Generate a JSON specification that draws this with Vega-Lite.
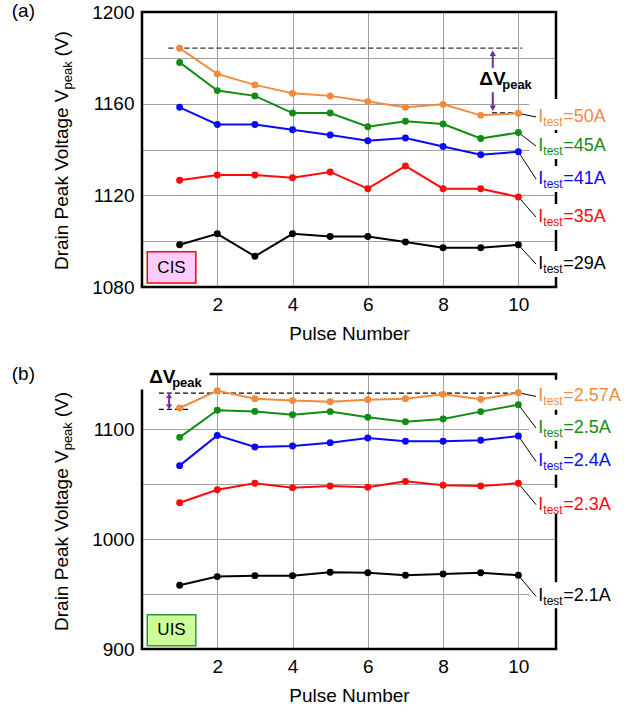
{
  "$schema": "https://vega.github.io/schema/vega-lite/v6.json",
  "padding": {"left": 11, "top": 1, "right": 5, "bottom": 5},
  "spacing": 22,
  "config": {
    "font": "Liberation Sans",
    "view": {"stroke": null},
    "axis": {"labelFontSize": 19, "titleFontSize": 19, "labelColor": "#000", "titleColor": "#000", "titleFontWeight": "normal", "gridColor": "#a0a0a0", "gridWidth": 1, "domain": false, "ticks": false, "labelPadding": 8, "titlePadding": 10},
    "text": {"font": "Liberation Sans", "color": "#000"}
  },
  "resolve": {"scale": {"x": "independent", "y": "independent", "color": "independent"}},
  "datasets": {
    "cis": [
      {"p":1,"v":1184.2,"s":"50A"},{"p":2,"v":1173,"s":"50A"},{"p":3,"v":1168.2,"s":"50A"},{"p":4,"v":1164.5,"s":"50A"},{"p":5,"v":1163.4,"s":"50A"},{"p":6,"v":1160.9,"s":"50A"},{"p":7,"v":1158.4,"s":"50A"},{"p":8,"v":1159.7,"s":"50A"},{"p":9,"v":1154.9,"s":"50A"},{"p":10,"v":1155.8,"s":"50A"},
      {"p":1,"v":1178,"s":"45A"},{"p":2,"v":1165.7,"s":"45A"},{"p":3,"v":1163.4,"s":"45A"},{"p":4,"v":1155.9,"s":"45A"},{"p":5,"v":1155.9,"s":"45A"},{"p":6,"v":1149.9,"s":"45A"},{"p":7,"v":1152.3,"s":"45A"},{"p":8,"v":1151.1,"s":"45A"},{"p":9,"v":1144.8,"s":"45A"},{"p":10,"v":1147.4,"s":"45A"},
      {"p":1,"v":1158.4,"s":"41A"},{"p":2,"v":1150.9,"s":"41A"},{"p":3,"v":1150.9,"s":"41A"},{"p":4,"v":1148.6,"s":"41A"},{"p":5,"v":1146.3,"s":"41A"},{"p":6,"v":1143.8,"s":"41A"},{"p":7,"v":1145,"s":"41A"},{"p":8,"v":1141.3,"s":"41A"},{"p":9,"v":1137.7,"s":"41A"},{"p":10,"v":1139,"s":"41A"},
      {"p":1,"v":1126.6,"s":"35A"},{"p":2,"v":1128.9,"s":"35A"},{"p":3,"v":1128.9,"s":"35A"},{"p":4,"v":1127.7,"s":"35A"},{"p":5,"v":1130.2,"s":"35A"},{"p":6,"v":1122.9,"s":"35A"},{"p":7,"v":1132.8,"s":"35A"},{"p":8,"v":1122.9,"s":"35A"},{"p":9,"v":1122.9,"s":"35A"},{"p":10,"v":1119.3,"s":"35A"},
      {"p":1,"v":1098.4,"s":"29A"},{"p":2,"v":1103.2,"s":"29A"},{"p":3,"v":1093.4,"s":"29A"},{"p":4,"v":1103.2,"s":"29A"},{"p":5,"v":1102,"s":"29A"},{"p":6,"v":1102,"s":"29A"},{"p":7,"v":1099.6,"s":"29A"},{"p":8,"v":1097.1,"s":"29A"},{"p":9,"v":1097.1,"s":"29A"},{"p":10,"v":1098.4,"s":"29A"}
    ],
    "cisLab": [
      {"s":"50A","t":"=50A","v10":1155.8,"ly":1154.2,"b0":1162,"b1":1148.5},
      {"s":"45A","t":"=45A","v10":1147.4,"ly":1141.5,"b0":1147.2,"b1":1135.9},
      {"s":"41A","t":"=41A","v10":1139,"ly":1127.1,"b0":1132.8,"b1":1121.5},
      {"s":"35A","t":"=35A","v10":1119.3,"ly":1110.5,"b0":1116.2,"b1":1104.9},
      {"s":"29A","t":"=29A","v10":1098.4,"ly":1090,"b0":1095.7,"b1":1084.4}
    ],
    "uis": [
      {"p":1,"v":1119.1,"s":"2.57A"},{"p":2,"v":1134.8,"s":"2.57A"},{"p":3,"v":1127.6,"s":"2.57A"},{"p":4,"v":1125.8,"s":"2.57A"},{"p":5,"v":1124.8,"s":"2.57A"},{"p":6,"v":1126.7,"s":"2.57A"},{"p":7,"v":1127.6,"s":"2.57A"},{"p":8,"v":1131.5,"s":"2.57A"},{"p":9,"v":1127,"s":"2.57A"},{"p":10,"v":1133,"s":"2.57A"},
      {"p":1,"v":1092.4,"s":"2.5A"},{"p":2,"v":1117,"s":"2.5A"},{"p":3,"v":1116,"s":"2.5A"},{"p":4,"v":1113,"s":"2.5A"},{"p":5,"v":1115.8,"s":"2.5A"},{"p":6,"v":1110.6,"s":"2.5A"},{"p":7,"v":1106.7,"s":"2.5A"},{"p":8,"v":1109.1,"s":"2.5A"},{"p":9,"v":1115.8,"s":"2.5A"},{"p":10,"v":1122.1,"s":"2.5A"},
      {"p":1,"v":1066.7,"s":"2.4A"},{"p":2,"v":1094.2,"s":"2.4A"},{"p":3,"v":1083.6,"s":"2.4A"},{"p":4,"v":1084.5,"s":"2.4A"},{"p":5,"v":1087.6,"s":"2.4A"},{"p":6,"v":1091.8,"s":"2.4A"},{"p":7,"v":1088.8,"s":"2.4A"},{"p":8,"v":1088.8,"s":"2.4A"},{"p":9,"v":1089.7,"s":"2.4A"},{"p":10,"v":1093.6,"s":"2.4A"},
      {"p":1,"v":1033,"s":"2.3A"},{"p":2,"v":1044.8,"s":"2.3A"},{"p":3,"v":1050.6,"s":"2.3A"},{"p":4,"v":1046.7,"s":"2.3A"},{"p":5,"v":1048.2,"s":"2.3A"},{"p":6,"v":1047,"s":"2.3A"},{"p":7,"v":1052.4,"s":"2.3A"},{"p":8,"v":1048.8,"s":"2.3A"},{"p":9,"v":1048.2,"s":"2.3A"},{"p":10,"v":1050.6,"s":"2.3A"},
      {"p":1,"v":957.9,"s":"2.1A"},{"p":2,"v":965.8,"s":"2.1A"},{"p":3,"v":966.7,"s":"2.1A"},{"p":4,"v":966.7,"s":"2.1A"},{"p":5,"v":969.7,"s":"2.1A"},{"p":6,"v":969.4,"s":"2.1A"},{"p":7,"v":967,"s":"2.1A"},{"p":8,"v":968.2,"s":"2.1A"},{"p":9,"v":969.4,"s":"2.1A"},{"p":10,"v":967,"s":"2.1A"}
    ],
    "uisLab": [
      {"s":"2.57A","t":"=2.57A","v10":1133,"ly":1129.6,"b0":1144.8,"b1":1117.5},
      {"s":"2.5A","t":"=2.5A","v10":1122.1,"ly":1100.9,"b0":1113,"b1":1089.4},
      {"s":"2.4A","t":"=2.4A","v10":1093.6,"ly":1070.5,"b0":1082,"b1":1058.5},
      {"s":"2.3A","t":"=2.3A","v10":1050.6,"ly":1031.2,"b0":1046.6,"b1":1023},
      {"s":"2.1A","t":"=2.1A","v10":967,"ly":947.8,"b0":960.6,"b1":937}
    ]
  },
  "vconcat": [
    {
      "width": 414,
      "height": 275,
      "layer": [
        {"data": {"values": [{}]}, "mark": {"type": "rule", "strokeWidth": 2.5, "color": "#000"},
         "encoding": {
           "x": {"datum": 0, "type": "quantitative", "scale": {"domain": [0, 11], "nice": false, "zero": false}, "axis": {"values": [2, 4, 6, 8, 10], "format": "d", "title": "Pulse Number", "grid": true}},
           "y": {"datum": 1080, "type": "quantitative", "scale": {"domain": [1080, 1200], "nice": false, "zero": false}, "axis": {"values": [1080, 1100, 1120, 1140, 1160, 1180, 1200], "format": "d", "labelExpr": "datum.value % 40 == 0 ? datum.label : ''", "title": null, "grid": true}},
           "y2": {"datum": 1200}}},
        {"data": {"values": [{}]}, "mark": {"type": "rule", "strokeWidth": 2.5, "color": "#000", "strokeCap": "square"},
         "encoding": {"x": {"datum": 0, "type": "quantitative"}, "x2": {"datum": 11}, "y": {"datum": 1080, "type": "quantitative"}}},
        {"data": {"values": [{}]}, "mark": {"type": "rule", "strokeWidth": 2.5, "color": "#000", "strokeCap": "square"},
         "encoding": {"x": {"datum": 0, "type": "quantitative"}, "x2": {"datum": 11}, "y": {"datum": 1200, "type": "quantitative"}}},
        {"data": {"values": [{}]}, "mark": {"type": "rule", "strokeWidth": 2.5, "color": "#000"},
         "encoding": {"x": {"datum": 11, "type": "quantitative"}, "y": {"datum": 1080, "type": "quantitative"}, "y2": {"datum": 1200}}},
        {"data": {"name": "cisLab"}, "mark": {"type": "rect", "fill": "#fff"},
         "encoding": {"x": {"datum": 10.29, "type": "quantitative"}, "x2": {"datum": 12.45}, "y": {"field": "b0", "type": "quantitative"}, "y2": {"field": "b1"}}},
        {"data": {"values": [{}]}, "mark": {"type": "rule", "strokeWidth": 1.2, "color": "#333", "strokeDash": [5, 3]},
         "encoding": {"x": {"datum": 0.7, "type": "quantitative"}, "x2": {"datum": 10.1}, "y": {"datum": 1184.2, "type": "quantitative"}}},
        {"data": {"values": [{}]}, "mark": {"type": "rule", "strokeWidth": 1.2, "color": "#000", "strokeDash": [5, 3]},
         "encoding": {"x": {"datum": 9.3, "type": "quantitative"}, "x2": {"datum": 10.05}, "y": {"datum": 1156, "type": "quantitative"}}},
        {"data": {"name": "cisLab"}, "mark": {"type": "rule", "strokeWidth": 1, "color": "#000"},
         "encoding": {"x": {"datum": 10, "type": "quantitative"}, "x2": {"datum": 10.47}, "y": {"field": "v10", "type": "quantitative"}, "y2": {"field": "ly"}}},
        {"data": {"name": "cis"}, "mark": {"type": "line", "strokeWidth": 2},
         "encoding": {"x": {"field": "p", "type": "quantitative"}, "y": {"field": "v", "type": "quantitative"},
           "color": {"field": "s", "type": "nominal", "scale": {"domain": ["50A", "45A", "41A", "35A", "29A"], "range": ["#F28A3B", "#128C12", "#0A0AF5", "#FF0A0A", "#000000"]}, "legend": null}}},
        {"data": {"name": "cis"}, "mark": {"type": "circle", "size": 48, "opacity": 1},
         "encoding": {"x": {"field": "p", "type": "quantitative"}, "y": {"field": "v", "type": "quantitative"},
           "color": {"field": "s", "type": "nominal", "legend": null}}},
        {"data": {"name": "cisLab"}, "mark": {"type": "text", "text": "I", "align": "left", "baseline": "middle", "fontSize": 18},
         "encoding": {"x": {"datum": 10.53, "type": "quantitative"}, "y": {"field": "ly", "type": "quantitative"}, "color": {"field": "s", "type": "nominal", "legend": null}}},
        {"data": {"name": "cisLab"}, "mark": {"type": "text", "text": "test", "align": "left", "baseline": "middle", "fontSize": 12, "dx": 5, "dy": 5},
         "encoding": {"x": {"datum": 10.53, "type": "quantitative"}, "y": {"field": "ly", "type": "quantitative"}, "color": {"field": "s", "type": "nominal", "legend": null}}},
        {"data": {"name": "cisLab"}, "mark": {"type": "text", "align": "left", "baseline": "middle", "fontSize": 18, "dx": 25},
         "encoding": {"x": {"datum": 10.53, "type": "quantitative"}, "y": {"field": "ly", "type": "quantitative"}, "text": {"field": "t"}, "color": {"field": "s", "type": "nominal", "legend": null}}},
        {"data": {"values": [{}]}, "mark": {"type": "rule", "strokeWidth": 2, "color": "#7030A0"},
         "encoding": {"x": {"datum": 9.32, "type": "quantitative"}, "y": {"datum": 1175.5, "type": "quantitative"}, "y2": {"datum": 1181.5}}},
        {"data": {"values": [{}]}, "mark": {"type": "rule", "strokeWidth": 2, "color": "#7030A0"},
         "encoding": {"x": {"datum": 9.32, "type": "quantitative"}, "y": {"datum": 1158.5, "type": "quantitative"}, "y2": {"datum": 1165}}},
        {"data": {"values": [{}]}, "mark": {"type": "point", "shape": "triangle-up", "filled": true, "size": 40, "color": "#7030A0", "opacity": 1},
         "encoding": {"x": {"datum": 9.32, "type": "quantitative"}, "y": {"datum": 1182, "type": "quantitative"}}},
        {"data": {"values": [{}]}, "mark": {"type": "point", "shape": "triangle-down", "filled": true, "size": 40, "color": "#7030A0", "opacity": 1},
         "encoding": {"x": {"datum": 9.32, "type": "quantitative"}, "y": {"datum": 1158, "type": "quantitative"}}},
        {"data": {"values": [{}]}, "mark": {"type": "text", "text": "ΔV", "align": "left", "baseline": "middle", "fontSize": 19, "fontWeight": "bold"},
         "encoding": {"x": {"datum": 8.96, "type": "quantitative"}, "y": {"datum": 1170.8, "type": "quantitative"}}},
        {"data": {"values": [{}]}, "mark": {"type": "text", "text": "peak", "align": "left", "baseline": "middle", "fontSize": 13, "fontWeight": "bold", "dx": 23, "dy": 6},
         "encoding": {"x": {"datum": 8.96, "type": "quantitative"}, "y": {"datum": 1170.8, "type": "quantitative"}}},
        {"data": {"values": [{}]}, "mark": {"type": "rect", "fill": "#FFCCFF", "stroke": "#FF0000", "strokeWidth": 1.5},
         "encoding": {"x": {"datum": 0.14, "type": "quantitative"}, "x2": {"datum": 1.43}, "y": {"datum": 1095.4, "type": "quantitative"}, "y2": {"datum": 1081.7}}},
        {"data": {"values": [{}]}, "mark": {"type": "text", "text": "CIS", "align": "center", "baseline": "middle", "fontSize": 17},
         "encoding": {"x": {"datum": 0.785, "type": "quantitative"}, "y": {"datum": 1088.5, "type": "quantitative"}}},
        {"data": {"values": [{}]}, "mark": {"type": "text", "text": "Drain Peak Voltage V", "align": "right", "baseline": "middle", "fontSize": 19, "angle": 270},
         "encoding": {"x": {"datum": -2.13, "type": "quantitative"}, "y": {"datum": 1166.2, "type": "quantitative"}}},
        {"data": {"values": [{}]}, "mark": {"type": "text", "text": "peak", "align": "left", "baseline": "middle", "fontSize": 13, "angle": 270, "dy": 6},
         "encoding": {"x": {"datum": -2.13, "type": "quantitative"}, "y": {"datum": 1166.2, "type": "quantitative"}}},
        {"data": {"values": [{}]}, "mark": {"type": "text", "text": "(V)", "align": "left", "baseline": "middle", "fontSize": 19, "angle": 270, "dx": 33},
         "encoding": {"x": {"datum": -2.13, "type": "quantitative"}, "y": {"datum": 1166.2, "type": "quantitative"}}},
        {"data": {"values": [{}]}, "mark": {"type": "text", "text": "(a)", "align": "left", "baseline": "middle", "fontSize": 19},
         "encoding": {"x": {"datum": -3.46, "type": "quantitative"}, "y": {"datum": 1200.5, "type": "quantitative"}}}
      ]
    },
    {
      "width": 414,
      "height": 275,
      "layer": [
        {"data": {"values": [{}]}, "mark": {"type": "rule", "strokeWidth": 2.5, "color": "#000"},
         "encoding": {
           "x": {"datum": 0, "type": "quantitative", "scale": {"domain": [0, 11], "nice": false, "zero": false}, "axis": {"values": [2, 4, 6, 8, 10], "format": "d", "title": "Pulse Number", "grid": true}},
           "y": {"datum": 900, "type": "quantitative", "scale": {"domain": [900, 1150], "nice": false, "zero": false}, "axis": {"values": [900, 950, 1000, 1050, 1100], "format": "d", "labelExpr": "datum.value % 100 == 0 ? datum.label : ''", "title": null, "grid": true}},
           "y2": {"datum": 1135.8}}},
        {"data": {"values": [{}]}, "mark": {"type": "rule", "strokeWidth": 2.5, "color": "#000", "strokeCap": "square"},
         "encoding": {"x": {"datum": 0, "type": "quantitative"}, "x2": {"datum": 11}, "y": {"datum": 900, "type": "quantitative"}}},
        {"data": {"values": [{}]}, "mark": {"type": "rule", "strokeWidth": 2.5, "color": "#000", "strokeCap": "square"},
         "encoding": {"x": {"datum": 1.83, "type": "quantitative"}, "x2": {"datum": 11}, "y": {"datum": 1150, "type": "quantitative"}}},
        {"data": {"values": [{}]}, "mark": {"type": "rule", "strokeWidth": 2.5, "color": "#000"},
         "encoding": {"x": {"datum": 11, "type": "quantitative"}, "y": {"datum": 900, "type": "quantitative"}, "y2": {"datum": 1150}}},
        {"data": {"name": "uisLab"}, "mark": {"type": "rect", "fill": "#fff"},
         "encoding": {"x": {"datum": 10.29, "type": "quantitative"}, "x2": {"datum": 12.7}, "y": {"field": "b0", "type": "quantitative"}, "y2": {"field": "b1"}}},
        {"data": {"values": [{}]}, "mark": {"type": "rule", "strokeWidth": 1.2, "color": "#000", "strokeDash": [5, 3]},
         "encoding": {"x": {"datum": 0.45, "type": "quantitative"}, "x2": {"datum": 10.03}, "y": {"datum": 1132.7, "type": "quantitative"}}},
        {"data": {"values": [{}]}, "mark": {"type": "rule", "strokeWidth": 1.2, "color": "#000", "strokeDash": [5, 3]},
         "encoding": {"x": {"datum": 0.45, "type": "quantitative"}, "x2": {"datum": 1.25}, "y": {"datum": 1117.9, "type": "quantitative"}}},
        {"data": {"name": "uisLab"}, "mark": {"type": "rule", "strokeWidth": 1, "color": "#000"},
         "encoding": {"x": {"datum": 10, "type": "quantitative"}, "x2": {"datum": 10.47}, "y": {"field": "v10", "type": "quantitative"}, "y2": {"field": "ly"}}},
        {"data": {"name": "uis"}, "mark": {"type": "line", "strokeWidth": 2},
         "encoding": {"x": {"field": "p", "type": "quantitative"}, "y": {"field": "v", "type": "quantitative"},
           "color": {"field": "s", "type": "nominal", "scale": {"domain": ["2.57A", "2.5A", "2.4A", "2.3A", "2.1A"], "range": ["#F28A3B", "#128C12", "#0A0AF5", "#FF0A0A", "#000000"]}, "legend": null}}},
        {"data": {"name": "uis"}, "mark": {"type": "circle", "size": 48, "opacity": 1},
         "encoding": {"x": {"field": "p", "type": "quantitative"}, "y": {"field": "v", "type": "quantitative"},
           "color": {"field": "s", "type": "nominal", "legend": null}}},
        {"data": {"name": "uisLab"}, "mark": {"type": "text", "text": "I", "align": "left", "baseline": "middle", "fontSize": 18},
         "encoding": {"x": {"datum": 10.53, "type": "quantitative"}, "y": {"field": "ly", "type": "quantitative"}, "color": {"field": "s", "type": "nominal", "legend": null}}},
        {"data": {"name": "uisLab"}, "mark": {"type": "text", "text": "test", "align": "left", "baseline": "middle", "fontSize": 12, "dx": 5, "dy": 5},
         "encoding": {"x": {"datum": 10.53, "type": "quantitative"}, "y": {"field": "ly", "type": "quantitative"}, "color": {"field": "s", "type": "nominal", "legend": null}}},
        {"data": {"name": "uisLab"}, "mark": {"type": "text", "align": "left", "baseline": "middle", "fontSize": 18, "dx": 25},
         "encoding": {"x": {"datum": 10.53, "type": "quantitative"}, "y": {"field": "ly", "type": "quantitative"}, "text": {"field": "t"}, "color": {"field": "s", "type": "nominal", "legend": null}}},
        {"data": {"values": [{}]}, "mark": {"type": "rule", "strokeWidth": 2, "color": "#7030A0"},
         "encoding": {"x": {"datum": 0.72, "type": "quantitative"}, "y": {"datum": 1120.5, "type": "quantitative"}, "y2": {"datum": 1130}}},
        {"data": {"values": [{}]}, "mark": {"type": "point", "shape": "triangle-up", "filled": true, "size": 36, "color": "#7030A0", "opacity": 1},
         "encoding": {"x": {"datum": 0.72, "type": "quantitative"}, "y": {"datum": 1130.3, "type": "quantitative"}}},
        {"data": {"values": [{}]}, "mark": {"type": "point", "shape": "triangle-down", "filled": true, "size": 36, "color": "#7030A0", "opacity": 1},
         "encoding": {"x": {"datum": 0.72, "type": "quantitative"}, "y": {"datum": 1120.2, "type": "quantitative"}}},
        {"data": {"values": [{}]}, "mark": {"type": "text", "text": "ΔV", "align": "left", "baseline": "middle", "fontSize": 19, "fontWeight": "bold"},
         "encoding": {"x": {"datum": 0.19, "type": "quantitative"}, "y": {"datum": 1147.6, "type": "quantitative"}}},
        {"data": {"values": [{}]}, "mark": {"type": "text", "text": "peak", "align": "left", "baseline": "middle", "fontSize": 13, "fontWeight": "bold", "dx": 23, "dy": 6},
         "encoding": {"x": {"datum": 0.19, "type": "quantitative"}, "y": {"datum": 1147.6, "type": "quantitative"}}},
        {"data": {"values": [{}]}, "mark": {"type": "rect", "fill": "#CCFF99", "stroke": "#339933", "strokeWidth": 1.5},
         "encoding": {"x": {"datum": 0.14, "type": "quantitative"}, "x2": {"datum": 1.43}, "y": {"datum": 931.2, "type": "quantitative"}, "y2": {"datum": 903}}},
        {"data": {"values": [{}]}, "mark": {"type": "text", "text": "UIS", "align": "center", "baseline": "middle", "fontSize": 17},
         "encoding": {"x": {"datum": 0.785, "type": "quantitative"}, "y": {"datum": 917, "type": "quantitative"}}},
        {"data": {"values": [{}]}, "mark": {"type": "text", "text": "Drain Peak Voltage V", "align": "right", "baseline": "middle", "fontSize": 19, "angle": 270},
         "encoding": {"x": {"datum": -2.13, "type": "quantitative"}, "y": {"datum": 1080.6, "type": "quantitative"}}},
        {"data": {"values": [{}]}, "mark": {"type": "text", "text": "peak", "align": "left", "baseline": "middle", "fontSize": 13, "angle": 270, "dy": 6},
         "encoding": {"x": {"datum": -2.13, "type": "quantitative"}, "y": {"datum": 1080.6, "type": "quantitative"}}},
        {"data": {"values": [{}]}, "mark": {"type": "text", "text": "(V)", "align": "left", "baseline": "middle", "fontSize": 19, "angle": 270, "dx": 33},
         "encoding": {"x": {"datum": -2.13, "type": "quantitative"}, "y": {"datum": 1080.6, "type": "quantitative"}}},
        {"data": {"values": [{}]}, "mark": {"type": "text", "text": "(b)", "align": "left", "baseline": "middle", "fontSize": 19},
         "encoding": {"x": {"datum": -3.46, "type": "quantitative"}, "y": {"datum": 1150, "type": "quantitative"}}}
      ]
    }
  ]
}
